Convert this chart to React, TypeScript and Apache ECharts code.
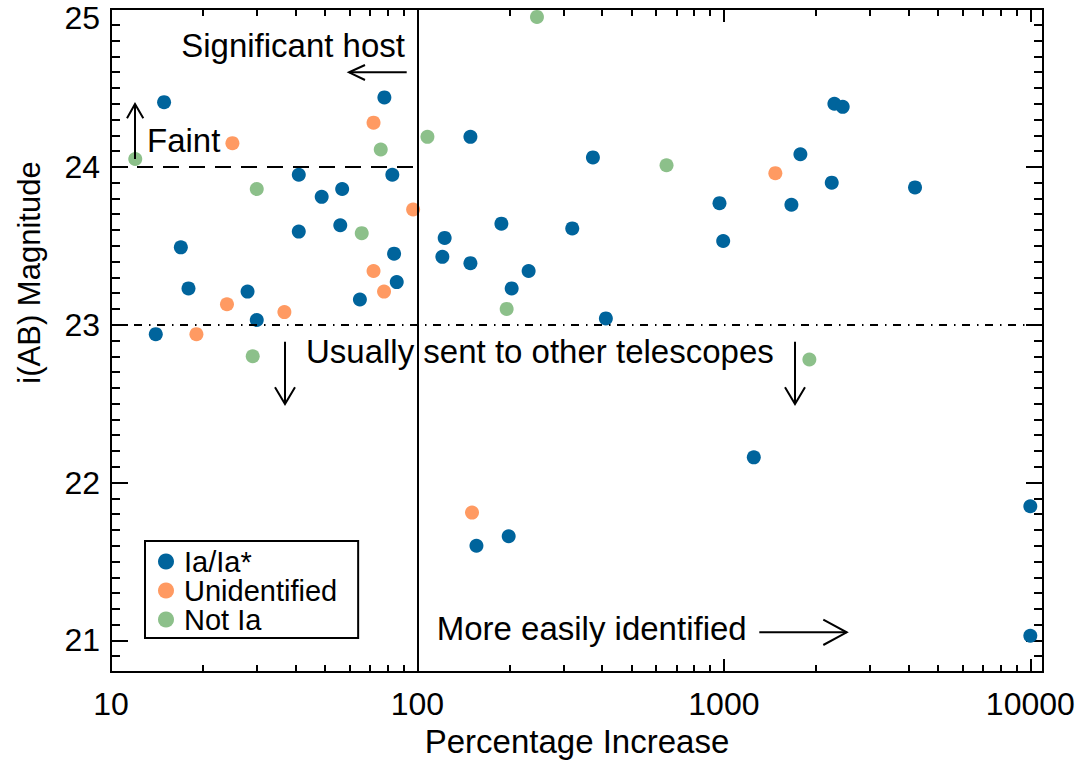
import React, { useEffect, useRef } from 'react';
import * as echarts from 'echarts';

// ---- Data (percentage increase, i(AB) magnitude) ----
const iaX = [14.9, 16.9, 17.9, 27.9, 29.9, 14.0, 41.0, 41.0, 48.7, 56.8, 56.0, 64.9, 78.0, 82.8, 83.9, 85.6,
  148.9, 122.7, 120.6, 148.9, 187.9, 203.0, 230.6, 320.0, 373.8, 412, 967.6, 994.7, 1661, 1777, 2249, 2294, 2442, 4205,
  155.8, 198.5, 1252, 10000, 10000];
const iaY = [24.41, 23.49, 23.23, 23.21, 23.03, 22.94, 23.95, 23.59, 23.81, 23.86, 23.63, 23.16, 24.44, 23.95, 23.45, 23.27,
  24.19, 23.55, 23.43, 23.39, 23.64, 23.23, 23.34, 23.61, 24.06, 23.04, 23.77, 23.53, 23.76, 24.08, 23.90, 24.40, 24.38, 23.87,
  21.60, 21.66, 22.16, 21.85, 21.03];

const unidX = [24.9, 71.9, 96.8, 71.9, 77.8, 23.9, 36.8, 19.0, 1472, 150.7];
const unidY = [24.15, 24.28, 23.73, 23.34, 23.21, 23.13, 23.08, 22.94, 23.96, 21.81];

const notIaX = [12.0, 75.9, 29.9, 65.8, 107.8, 29.0, 245.5, 649.9, 195.5, 1901];
const notIaY = [24.05, 24.11, 23.86, 23.58, 24.19, 22.80, 24.95, 24.01, 23.10, 22.78];

const seriesNames = ['Ia/Ia*', 'Unidentified', 'Not Ia'];
const seriesColors = ['#00649C', '#FF9A62', '#8CC08A'];

// ---- Axis ticks ----
const xMajorTicks = [10, 100, 1000, 10000];
const xMinorTicks = [20, 30, 40, 50, 60, 70, 80, 90, 200, 300, 400, 500, 600, 700, 800, 900,
  2000, 3000, 4000, 5000, 6000, 7000, 8000, 9000];
const yMajorTicks = [21, 22, 23, 24, 25];
const yMinorTicks: number[] = [];
for (let i = 208; i <= 250; i++) if (i % 10 !== 0) yMinorTicks.push(i / 10);

const X_MIN = 10, X_MAX = 11000, Y_MIN = 20.8, Y_MAX = 25;
const FONT = '"Liberation Sans", Arial, Helvetica, sans-serif';

const zip = (xs: number[], ys: number[]) => xs.map((x, i) => [x, ys[i]]);

export default function App() {
  const ref = useRef<HTMLDivElement>(null);

  useEffect(() => {
    const chart = echarts.init(ref.current!, null, { renderer: 'svg' });

    const tickStyle = { color: '#000', width: 2 };
    const xAxisDef = (position: string, major: boolean, withLabel: boolean) => ({
      type: 'log', logBase: 10, min: X_MIN, max: X_MAX, position, gridIndex: 0,
      axisLine: { show: false }, splitLine: { show: false },
      axisTick: { show: true, inside: true, length: major ? 13 : 7, customValues: major ? xMajorTicks : xMinorTicks, lineStyle: tickStyle },
      axisLabel: withLabel ? {
        show: true, customValues: xMajorTicks, margin: 16, color: '#000', fontSize: 32, fontFamily: FONT,
        formatter: (v: number) => String(Math.round(v)),
      } : { show: false },
      ...(withLabel ? {
        name: 'Percentage Increase', nameLocation: 'middle', nameGap: 51,
        nameTextStyle: { color: '#000', fontSize: 33, fontFamily: FONT },
      } : {}),
    });
    const yAxisDef = (position: string, major: boolean, withLabel: boolean) => ({
      type: 'value', min: Y_MIN, max: Y_MAX, position, gridIndex: 0,
      axisLine: { show: false }, splitLine: { show: false },
      axisTick: { show: true, inside: true, length: major ? 17 : 9, customValues: major ? yMajorTicks : yMinorTicks, lineStyle: tickStyle },
      axisLabel: withLabel ? {
        show: true, customValues: yMajorTicks, margin: 11, color: '#000', fontSize: 32, fontFamily: FONT,
        formatter: (v: number) => (v === 25 ? '{t|25}' : String(v)),
        rich: { t: { padding: [18, 0, 0, 0], fontSize: 32, fontFamily: FONT, color: '#000' } },
      } : { show: false },
      ...(withLabel ? {
        name: 'i(AB) Magnitude', nameLocation: 'middle', nameGap: 66,
        nameTextStyle: { color: '#000', fontSize: 31, fontFamily: FONT, padding: [0, 0, 0, 136] },
      } : {}),
    });

    const annFont = `33px ${FONT}`;
    const txt = (text: string, x: number, y: number, align: string) => ({
      type: 'text', silent: true, z: 50,
      style: { text, x, y, font: annFont, fill: '#000', align, textAlign: align, verticalAlign: 'middle', textVerticalAlign: 'middle' },
    });
    const seg = (x1: number, y1: number, x2: number, y2: number) => ({
      type: 'line', silent: true, z: 50, shape: { x1, y1, x2, y2 }, style: { stroke: '#000', lineWidth: 2 },
    });
    const head = (pts: number[][]) => ({
      type: 'polyline', silent: true, z: 50, shape: { points: pts }, style: { stroke: '#000', lineWidth: 2, fill: null },
    });

    const option: any = {
      animation: false,
      backgroundColor: '#fff',
      grid: {
        left: 111, right: 43, top: 9, bottom: 91, show: true, borderColor: '#000', borderWidth: 2,
        backgroundColor: 'transparent', containLabel: false, outerBoundsMode: 'none',
      },
      xAxis: [
        xAxisDef('bottom', true, true),
        xAxisDef('bottom', false, false),
        xAxisDef('top', true, false),
        xAxisDef('top', false, false),
      ],
      yAxis: [
        yAxisDef('left', true, true),
        yAxisDef('left', false, false),
        yAxisDef('right', true, false),
        yAxisDef('right', false, false),
      ],
      legend: {
        show: true, orient: 'vertical', left: 145, top: 541, padding: [6, 21, 4, 13],
        borderColor: '#000', borderWidth: 2, backgroundColor: '#fff',
        itemWidth: 26, itemHeight: 16, itemGap: 0, icon: 'circle',
        textStyle: { color: '#000', fontSize: 29, fontFamily: FONT },
        data: seriesNames,
      },
      series: [
        {
          name: seriesNames[0], type: 'scatter', symbol: 'circle', symbolSize: 14,
          itemStyle: { color: seriesColors[0], opacity: 1 }, data: zip(iaX, iaY),
          markLine: {
            silent: true, symbol: ['none', 'none'], label: { show: false }, animation: false,
            data: [
              { xAxis: 100, lineStyle: { color: '#000', width: 2, type: 'solid' } },
              [
                { coord: [10, 24], lineStyle: { color: '#000', width: 2, type: [16, 10] } },
                { coord: [100, 24] },
              ],
              { yAxis: 23, lineStyle: { color: '#000', width: 2, type: [8, 7, 1.5, 6.5] } },
            ],
          },
        },
        {
          name: seriesNames[1], type: 'scatter', symbol: 'circle', symbolSize: 14,
          itemStyle: { color: seriesColors[1], opacity: 1 }, data: zip(unidX, unidY),
        },
        {
          name: seriesNames[2], type: 'scatter', symbol: 'circle', symbolSize: 14,
          itemStyle: { color: seriesColors[2], opacity: 1 }, data: zip(notIaX, notIaY),
        },
      ],
      graphic: [
        txt('Significant host', 405, 45.3, 'right'),
        seg(349, 72.3, 406.7, 72.3),
        head([[365, 65], [349, 72.3], [365, 80]]),
        txt('Faint', 147, 140.6, 'left'),
        seg(135, 159, 135, 104),
        head([[127, 118.3], [135, 104], [143.3, 118.3]]),
        txt('Usually sent to other telescopes', 306, 351.9, 'left'),
        seg(285, 341.7, 285, 404),
        head([[275, 387.3], [285, 404], [295, 387.3]]),
        seg(795, 341.7, 795, 404),
        head([[785, 387.3], [795, 404], [805, 387.3]]),
        txt('More easily identified', 436.7, 628.6, 'left'),
        seg(759.3, 632.3, 846.7, 632.3),
        head([[823.3, 619.7], [846.7, 632.3], [823.3, 645]]),
      ],
    };

    chart.setOption(option);
    return () => chart.dispose();
  }, []);

  return (
    <div
      ref={ref}
      style={{ position: 'fixed', left: 0, top: 0, width: 1086, height: 763, background: '#fff' }}
    />
  );
}
